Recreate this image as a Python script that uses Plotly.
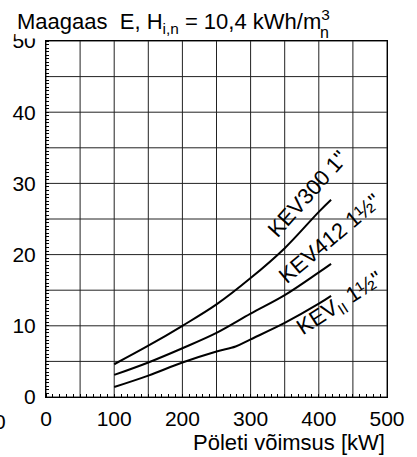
import plotly.graph_objects as go

# Data
kev300_x = [100, 150, 200, 250, 300, 350, 400, 418]
kev300_y = [4.6, 7.2, 10.0, 13.0, 16.7, 20.9, 26.0, 27.7]
kev412_x = [100, 150, 200, 250, 300, 350, 400, 418]
kev412_y = [3.1, 4.85, 6.85, 9.0, 11.7, 14.3, 17.5, 18.7]
kevii_x = [100, 150, 200, 250, 278, 300, 350, 400, 418]
kevii_y = [1.4, 3.0, 4.85, 6.4, 7.1, 8.1, 10.4, 13.1, 14.2]

x_ticks = [0, 100, 200, 300, 400, 500]
y_ticks = [0, 10, 20, 30, 40, 50]

labels = ['KEV300 1"', 'KEV412 1½"', 'KEV<sub>II</sub> 1½"']
label_x = [384, 416, 432]
label_y = [28.6, 22.3, 13.0]
label_angle = [-48, -40, -33]

FONT = "Liberation Sans, Arial, sans-serif"

# pixel geometry of the plot area
L, R, T, B = 42, 398, 41, 397
W, H = R - L, B - T


def px_x(p):
    return (p - L) / W


def px_y(p):
    return (B - p) / H


fig = go.Figure()
for xs, ys in [(kev300_x, kev300_y), (kev412_x, kev412_y), (kevii_x, kevii_y)]:
    fig.add_trace(go.Scatter(x=xs, y=ys, mode="lines",
                             line=dict(color="black", width=2, shape="spline", smoothing=1.0),
                             showlegend=False, hoverinfo="skip"))

for t, lx, ly, ang in zip(labels, label_x, label_y, label_angle):
    fig.add_annotation(x=lx, y=ly, text=t, showarrow=False, textangle=ang,
                       font=dict(family=FONT, size=22, color="black"), xanchor="center", yanchor="middle")

# clipped stray label at the far left edge
fig.add_annotation(xref="paper", yref="paper", x=px_x(0), y=px_y(421), xshift=-6,
                   text="0", showarrow=False, xanchor="center", yanchor="middle",
                   font=dict(family=FONT, size=21, color="black"))

# Title
fig.add_annotation(xref="paper", yref="paper", x=px_x(10), y=px_y(22),
                   text="Maagaas  E, H<sub>i,n</sub> = 10,4 kWh/m<sup>3</sup>",
                   showarrow=False, xanchor="left", yanchor="middle", bgcolor="white",
                   font=dict(family=FONT, size=22, color="black"))
fig.add_annotation(xref="paper", yref="paper", x=px_x(333), y=px_y(32),
                   text="n", showarrow=False, xanchor="center", yanchor="middle",
                   font=dict(family=FONT, size=16, color="black"))
# x axis title
fig.add_annotation(xref="paper", yref="paper", x=1.0, y=px_y(442),
                   text="Pöleti võimsus [kW]", showarrow=False, xanchor="right", yanchor="middle",
                   font=dict(family=FONT, size=22, color="black"))

axis_common = dict(showline=True, linecolor="black", linewidth=1, mirror=True,
                   showgrid=False, zeroline=False,
                   ticks="", tickfont=dict(family=FONT, size=21, color="black"))

fig.update_xaxes(range=[0, 500], tickvals=x_ticks, ticktext=[str(v) for v in x_ticks],
                 ticklabelstandoff=3,
                 minor=dict(dtick=10, tick0=0, ticks="inside", ticklen=3, tickcolor="black", showgrid=False),
                 **axis_common)
fig.update_yaxes(range=[0, 50], tickvals=y_ticks, ticktext=[str(v) for v in y_ticks],
                 ticklabelstandoff=5,
                 minor=dict(dtick=0.5, tick0=0, ticks="inside", ticklen=3, tickcolor="black", showgrid=False),
                 **axis_common)

# Grid lines every 50 kW and every 5 units
for gx in range(0, 501, 50):
    fig.add_shape(type="line", xref="x", yref="paper", x0=gx, x1=gx, y0=0, y1=1,
                  line=dict(color="#222", width=1), layer="below")
for gy in range(0, 51, 5):
    fig.add_shape(type="line", xref="paper", yref="y", x0=0, x1=1, y0=gy, y1=gy,
                  line=dict(color="#222", width=1), layer="below")

fig.update_layout(width=417, height=457, margin=dict(l=L, r=417 - R, t=T, b=457 - B),
                  plot_bgcolor="white", paper_bgcolor="white")

fig.write_html("out.html")
